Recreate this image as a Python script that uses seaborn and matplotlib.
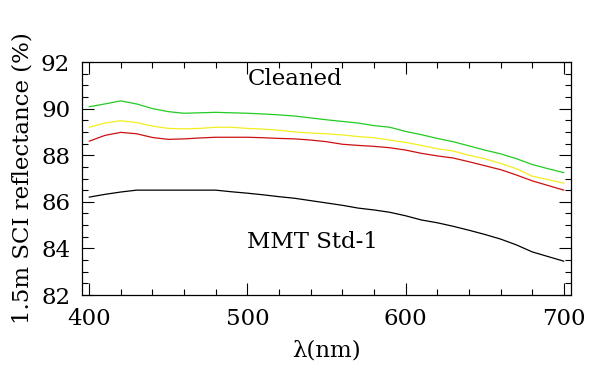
import numpy as np
import pandas as pd
import matplotlib
matplotlib.use('Agg')
import matplotlib.pyplot as plt
import seaborn as sns
from matplotlib.ticker import MultipleLocator

sns.set_style('ticks')
plt.rcParams['font.family'] = ['DejaVu Serif', 'DejaVu Sans']
plt.rcParams['text.color'] = 'black'
plt.rcParams['axes.labelcolor'] = 'black'
plt.rcParams['xtick.color'] = 'black'
plt.rcParams['ytick.color'] = 'black'

# wavelength grid (nm) and reflectance curves (%)
wavelength = [400, 410, 420, 430, 440, 450, 460, 470, 480, 490, 500,
              510, 520, 530, 540, 550, 560, 570, 580, 590, 600,
              610, 620, 630, 640, 650, 660, 670, 680, 690, 700]
green = [90.08, 90.2, 90.33, 90.2, 90.0, 89.87, 89.8, 89.82, 89.84, 89.82, 89.8,
         89.77, 89.73, 89.68, 89.6, 89.52, 89.45, 89.38, 89.27, 89.2, 89.02,
         88.88, 88.72, 88.58, 88.4, 88.22, 88.06, 87.85, 87.6, 87.42, 87.25]
yellow = [89.2, 89.38, 89.48, 89.4, 89.25, 89.15, 89.13, 89.15, 89.2, 89.2, 89.15,
          89.12, 89.07, 89.0, 88.95, 88.92, 88.87, 88.8, 88.75, 88.65, 88.55,
          88.42, 88.28, 88.18, 88.0, 87.85, 87.65, 87.42, 87.1, 86.95, 86.8]
red = [88.6, 88.85, 88.98, 88.92, 88.76, 88.68, 88.7, 88.74, 88.77, 88.77, 88.77,
       88.75, 88.72, 88.7, 88.65, 88.58, 88.47, 88.42, 88.38, 88.32, 88.22,
       88.08, 87.97, 87.88, 87.72, 87.55, 87.38, 87.15, 86.9, 86.7, 86.5]
black = [86.2, 86.32, 86.42, 86.5, 86.5, 86.5, 86.5, 86.5, 86.5, 86.43, 86.37,
         86.3, 86.22, 86.15, 86.05, 85.95, 85.85, 85.73, 85.65, 85.55, 85.4,
         85.22, 85.1, 84.95, 84.78, 84.6, 84.4, 84.15, 83.85, 83.65, 83.45]

series = {'green': green, 'yellow': yellow, 'red': red, 'black': black}
colors = {'green': '#22cc22', 'yellow': '#f2ee20', 'red': '#cc1010', 'black': '#000000'}

rows = []
for name, vals in series.items():
  for w, v in zip(wavelength, vals):
    rows.append({'wl': w, 'refl': v, 'curve': name})
df = pd.DataFrame(rows)

fig = plt.figure(figsize=(5.98, 3.91), dpi=100)
ax = fig.add_axes([82/598, 1-295/391, (571-82)/598, (295-62)/391])

for name in series:
  sns.lineplot(data=df[df.curve == name], x='wl', y='refl', color=colors[name],
               lw=0.9, ax=ax, legend=False)

ax.set_xlim(395.5, 704.5)
ax.set_ylim(82, 92)
ax.xaxis.set_major_locator(MultipleLocator(100))
ax.xaxis.set_minor_locator(MultipleLocator(20))
ax.yaxis.set_major_locator(MultipleLocator(2))
ax.yaxis.set_minor_locator(MultipleLocator(0.5))
ax.tick_params(which='both', direction='in', top=True, right=True,
               width=0.8, colors='black', labelsize=16.5)
ax.tick_params(which='major', length=8.5)
ax.tick_params(which='minor', length=4)
ax.tick_params(axis='x', pad=9.5)
ax.tick_params(axis='y', pad=8.5)
for s in ax.spines.values():
  s.set_linewidth(0.9)
  s.set_color('black')

ax.set_xlabel('λ(nm)', fontsize=16.5, labelpad=7, color='black')
ax.set_ylabel('1.5m SCI reflectance (%)', fontsize=16.5, labelpad=5, color='black')

ax.text(500, 91.0, 'Cleaned', fontsize=16.5, ha='left', va='baseline', color='black')
ax.text(500, 84.0, 'MMT Std-1', fontsize=16.5, ha='left', va='baseline', color='black')

plt.savefig('out.png', dpi=100)
